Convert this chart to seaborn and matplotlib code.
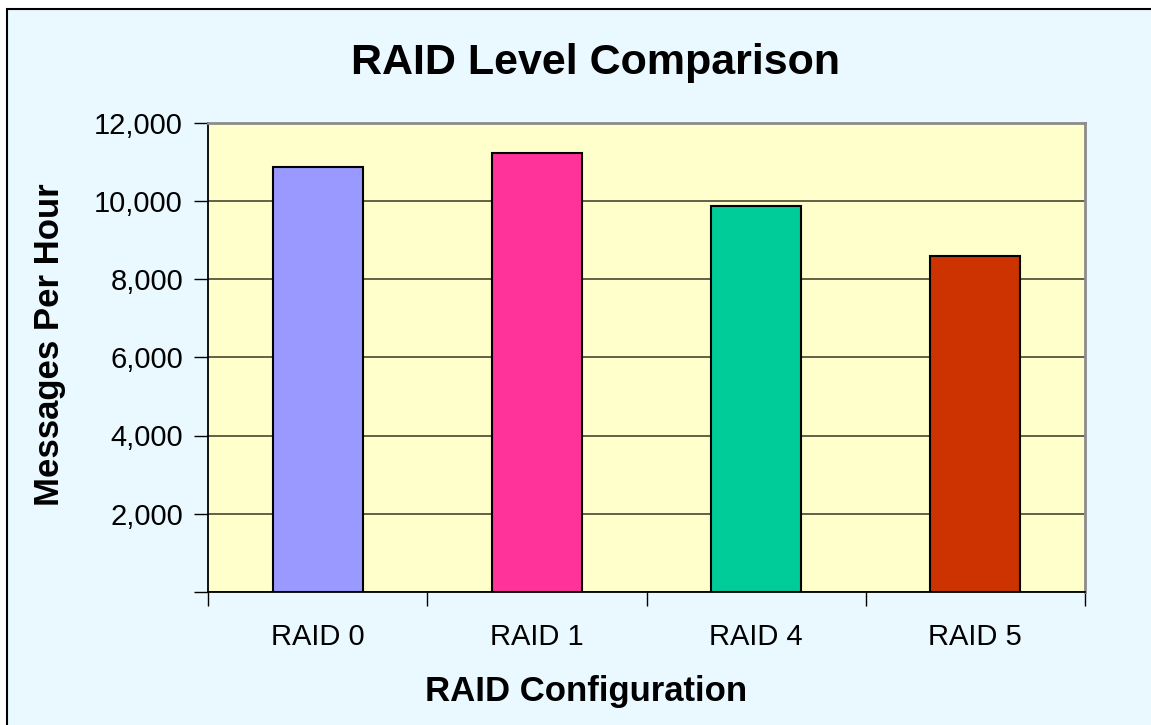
import matplotlib
matplotlib.use("Agg")
import matplotlib.pyplot as plt
from matplotlib.patches import Rectangle
from matplotlib.ticker import FuncFormatter, FixedLocator
import seaborn as sns
import pandas as pd

# Chart data
configs = ["RAID 0", "RAID 1", "RAID 4", "RAID 5"]
messages_per_hour = [10870, 11230, 9860, 8600]
bar_colors = ["#9999FF", "#FF3399", "#00CC99", "#CC3300"]

df = pd.DataFrame({"config": configs, "messages": messages_per_hour})

sns.set_style("white")
plt.rcParams["font.family"] = ["Liberation Sans", "DejaVu Sans"]
plt.rcParams["text.color"] = "black"
plt.rcParams["axes.labelcolor"] = "black"
plt.rcParams["xtick.color"] = "black"
plt.rcParams["ytick.color"] = "black"

fig = plt.figure(figsize=(11.51, 7.25), dpi=100)
fig.patch.set_facecolor("white")

# light blue chart area with dark border
fig.patches.append(Rectangle((7 / 1151, -0.02), 1.0, 1 - 9 / 725 + 0.02,
                             transform=fig.transFigure, facecolor="#EAF8FF",
                             edgecolor="black", linewidth=1.5, zorder=-1))

ax = fig.add_axes([208 / 1151, 1 - 592 / 725, 877 / 1151, 469.5 / 725])
ax.set_facecolor("#FFFFCC")

sns.barplot(data=df, x="config", y="messages", hue="config", palette=bar_colors,
            saturation=1, width=0.41, edgecolor="black", linewidth=1.5,
            legend=False, ax=ax, zorder=3)

ax.set_xlim(-0.5, 3.5)
ax.set_ylim(0, 12000)
ax.set_yticks(range(0, 12001, 2000))
ax.yaxis.set_major_formatter(FuncFormatter(lambda v, p: "" if v == 0 else f"{int(v):,}"))
ax.yaxis.grid(True, color="#55553F", linewidth=1.3, zorder=1)
ax.set_axisbelow(True)

# category-boundary ticks on x axis
ax.xaxis.set_minor_locator(FixedLocator([-0.5, 0.5, 1.5, 2.5, 3.5]))
ax.tick_params(axis="x", which="major", length=0, labelsize=21, pad=22)
ax.tick_params(axis="x", which="minor", length=10, width=1, color="black", direction="out")
ax.tick_params(axis="y", which="major", length=10, width=1, color="black",
               direction="out", labelsize=21, pad=8)
ax.tick_params(left=True, bottom=True, which="both")

for side in ["left", "bottom"]:
    ax.spines[side].set_color("black")
    ax.spines[side].set_linewidth(1.3)
for side in ["top", "right"]:
    ax.spines[side].set_visible(True)
    ax.spines[side].set_color("#8C8C8C")
    ax.spines[side].set_linewidth(2)

ax.set_xlabel("RAID Configuration", fontsize=25, fontweight="bold", va="center")
ax.xaxis.set_label_coords((586 - 208) / 877, (592 - 692) / 469.5)
ax.set_ylabel("Messages Per Hour", fontsize=25, fontweight="bold", va="center")
ax.yaxis.set_label_coords((50 - 208) / 877, (592 - 345) / 469.5)

fig.text(596 / 1151, 1 - 63 / 725, "RAID Level Comparison", fontsize=31,
         fontweight="bold", ha="center", va="center")

plt.savefig("out.png", dpi=100)
